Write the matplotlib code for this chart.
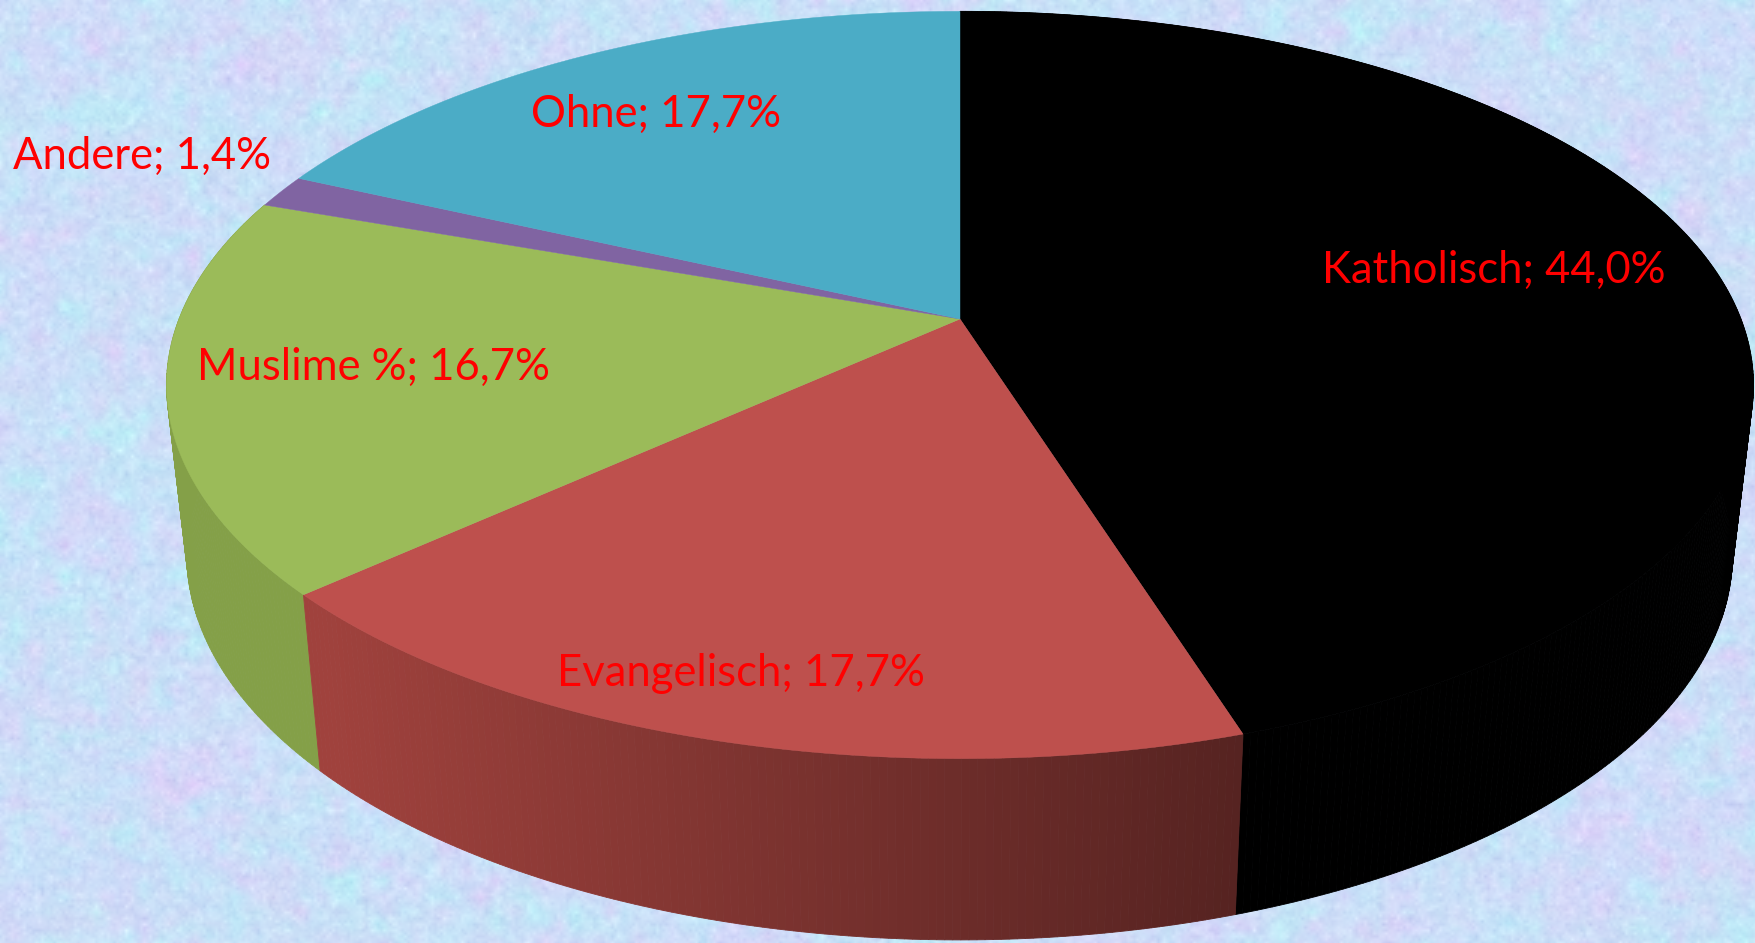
import numpy as np
import matplotlib
matplotlib.use('Agg')
import matplotlib.pyplot as plt

# ===================== data =====================
categories = ['Katholisch', 'Evangelisch', 'Muslime %', 'Andere', 'Ohne']
values = [44.0, 17.7, 16.7, 1.4, 17.7]
top_colors = ['#000000', '#BE504D', '#9BBB59', '#8064A2', '#4BACC6']

# label centre x / baseline y in pixels
label_x = [1494, 741, 373, 142, 656]
label_y = [283, 686, 380, 169, 127]

W, H = 1755, 943

# pie geometry (pixels)
CX, CY = 960, 319
A, B, K = 781, 362, 0.1766


def top_pt(deg):
    # clockwise from north, with perspective: far side is squeezed
    t = np.radians(deg)
    u, v = np.sin(t), np.cos(t)
    d = 1 + K * v
    return CX + A * u / d, CY - B * v / d


def low_pt(deg):
    x, y = top_pt(deg)
    return 0.974 * x + 24.6, 1.032 * y + 157


def smooth_noise(rs, step):
    # bilinear upscaled noise layer for the background paper
    ny, nx = H // step + 2, W // step + 2
    g = rs.normal(size=(ny, nx))
    xs = np.arange(W) / step
    ys = np.arange(H) / step
    ix, iy = xs.astype(int), ys.astype(int)
    fx, fy = (xs - ix)[None, :], (ys - iy)[:, None]
    a = g[np.ix_(iy, ix)]
    b = g[np.ix_(iy, ix + 1)]
    c = g[np.ix_(iy + 1, ix)]
    d = g[np.ix_(iy + 1, ix + 1)]
    return (a * (1 - fx) + b * fx) * (1 - fy) + (c * (1 - fx) + d * fx) * fy


# ===================== background =====================
rs = np.random.RandomState(7)
pink = 0.6 * smooth_noise(rs, 40) + 0.6 * smooth_noise(rs, 16)
cyan = 0.6 * smooth_noise(rs, 34) + 0.6 * smooth_noise(rs, 13)
fine = 0.7 * smooth_noise(rs, 6) + 0.5 * smooth_noise(rs, 3)
bg = np.zeros((H, W, 3))
bg[..., 0] = 203 + 7 * pink - 5 * cyan + 6 * fine
bg[..., 1] = 223 - 6 * pink + 4 * cyan + 6 * fine
bg[..., 2] = 248 + 1 * pink + 1 * cyan + 3 * fine
bg = np.clip(bg, 0, 255) / 255

fig = plt.figure(figsize=(W / 100, H / 100), dpi=100)
ax = fig.add_axes([0, 0, 1, 1])
ax.imshow(bg, extent=(0, W, H, 0), aspect='auto', zorder=0)
ax.set_xlim(0, W)
ax.set_ylim(H, 0)
ax.axis('off')

# ===================== wedges =====================
total = sum(values)
edges = np.cumsum([0] + values) / total * 360


def side_color(i, x):
    if i == 1:
        f = np.clip((x - 320) / (1240 - 320), 0, 1)
        return (np.array([160, 66, 61]) * (1 - f) + np.array([86, 35, 33]) * f) / 255
    if i == 2:
        return np.array([132, 160, 72]) / 255
    return np.array(matplotlib.colors.to_rgb(top_colors[i])) * 0.8


# side wall, only the parts facing the viewer
for i in [2, 0, 1]:
    start, stop = edges[i], edges[i + 1]
    steps = np.linspace(start, stop, int((stop - start) * 2) + 2)
    for s0, s1 in zip(steps[:-1], steps[1:]):
        p = [top_pt(s0), top_pt(s1), low_pt(s1), low_pt(s0)]
        c = side_color(i, (p[0][0] + p[1][0]) / 2)
        ax.fill(*zip(*p), color=c, lw=0.6, zorder=2 + (i == 1))

# top face
for i in range(len(values)):
    arc = np.linspace(edges[i], edges[i + 1], 200)
    xs, ys = top_pt(arc)
    ax.fill(np.r_[CX, xs], np.r_[CY, ys], color=top_colors[i], lw=0.3, zorder=4)

# ===================== labels =====================
for name, val, x, y in zip(categories, values, label_x, label_y):
    txt = f'{name}; {val:.1f}%'.replace('.', ',')
    ax.text(x, y, txt, color='#FF0000', fontsize=31.4, family='Lato',
            ha='center', va='baseline', zorder=5)

fig.savefig('out.png', dpi=100)
